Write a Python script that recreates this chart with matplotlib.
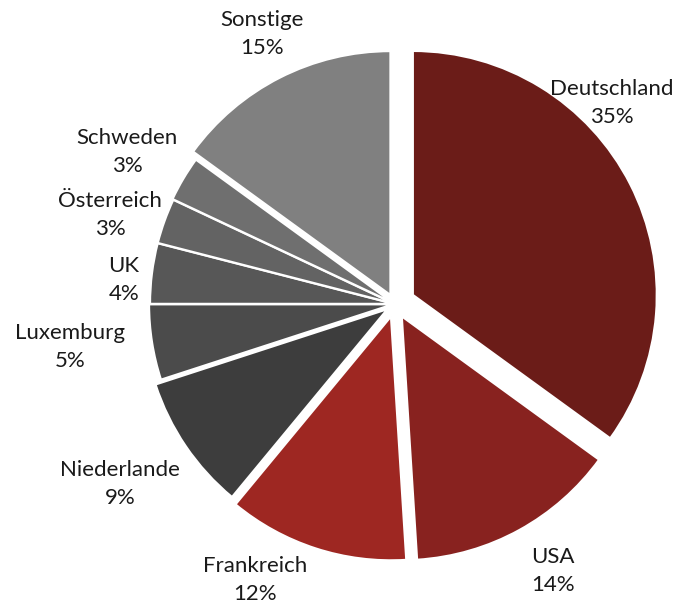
import matplotlib
matplotlib.use("Agg")
import matplotlib.pyplot as plt

categories = ["Deutschland", "USA", "Frankreich", "Niederlande", "Luxemburg",
              "UK", "Österreich", "Schweden", "Sonstige"]
values = [35, 14, 12, 9, 5, 4, 3, 3, 15]
colors = ["#6B1C18", "#88221F", "#9E2722", "#3D3D3D", "#4B4B4B",
          "#575757", "#636363", "#6F6F6F", "#808080"]
# explode offsets in pixels
explode = [20, 14, 13, 9, 2, 1, 1, 2, 10]
# label centres in pixel coordinates (x, y from top)
label_pos = [(612, 103), (553, 571), (255, 580), (120, 484), (70, 347),
             (124, 280), (110, 215), (127, 152), (262, 34)]

W, H = 675, 607
fig = plt.figure(figsize=(W / 100, H / 100), dpi=100)
ax = fig.add_axes([0, 0, 1, 1])
cx, cy, r = 395, H - 304, 244
ax.pie(values, colors=colors, explode=explode, startangle=90, counterclock=False,
       center=(cx, cy), radius=r,
       wedgeprops=dict(edgecolor="white", linewidth=1.6))
ax.set_xlim(0, W)
ax.set_ylim(0, H)
ax.set_aspect("equal")
ax.axis("off")

for cat, v, (lx, ly) in zip(categories, values, label_pos):
    ax.text(lx, H - ly, f"{cat}\n{v}%", ha="center", va="center",
            fontsize=16, family="Lato", color="#1a1a1a", linespacing=1.5)

fig.savefig("out.png", dpi=100)
